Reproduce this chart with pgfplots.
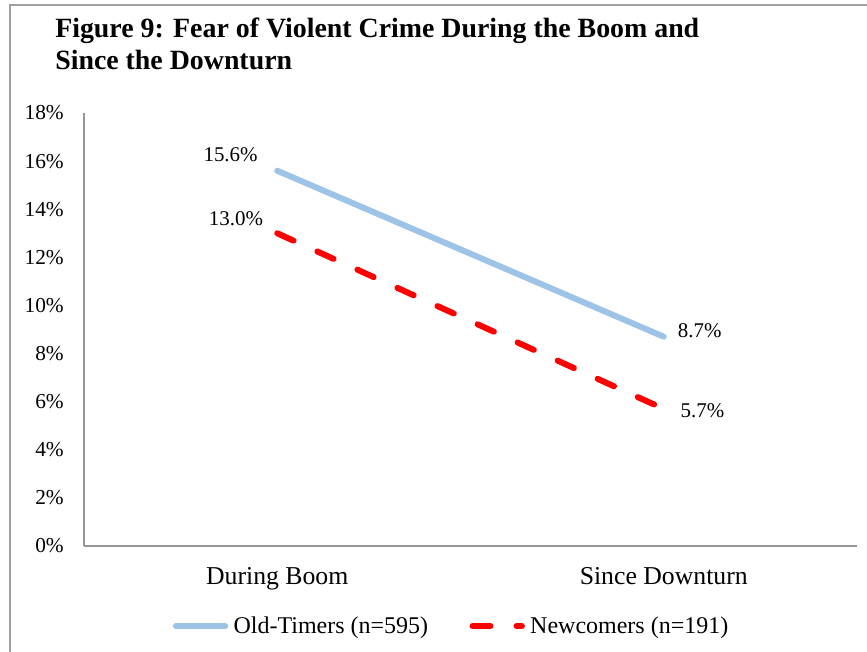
\documentclass[border=0pt]{standalone}
\usepackage{pgfplots}
\pgfplotsset{compat=1.18}
\usepackage{fontspec}
\setmainfont{Liberation Serif}
\definecolor{oldblue}{RGB}{157,195,230}
\definecolor{newred}{RGB}{255,0,0}
\definecolor{axgray}{RGB}{150,150,150}
\definecolor{bordergray}{RGB}{160,160,160}
\begin{document}
\begin{tikzpicture}
\useasboundingbox (0pt,0pt) rectangle (650.25pt,-489pt);
\begin{scope}
\clip (0pt,0pt) rectangle (650.25pt,-489pt);
\draw[bordergray, line width=0.9pt] (7.5pt,-500pt) -- (7.5pt,-3.75pt) -- (660pt,-3.75pt);
\end{scope}
\node[anchor=base west, inner sep=0pt, font=\fontsize{20.9}{24}\selectfont\bfseries] at (41.25pt,-28pt) {Figure 9: Fear of Violent Crime During the Boom and};
\node[anchor=base west, inner sep=0pt, font=\fontsize{20.9}{24}\selectfont\bfseries] at (41.25pt,-52.5pt) {Since the Downturn};
\begin{axis}[
  at={(63pt,-409.5pt)}, anchor=south west,
  scale only axis, width=579.75pt, height=324.75pt,
  xmin=-0.5, xmax=1.5, ymin=0, ymax=18,
  axis x line=bottom, axis y line=left,
  axis line style={axgray, line width=1.3pt, -},
  xtick={0,1}, xticklabels={During Boom, Since Downturn},
  ytick={0,2,...,18},
  yticklabel={\pgfmathprintnumber{\tick}\%},
  /pgf/number format/assume math mode=true,
  major tick length=0pt,
  yticklabel style={inner sep=0pt, anchor=east, xshift=-15pt, font=\fontsize{16}{18}\selectfont},
  xticklabel style={inner sep=0pt, anchor=north, yshift=-16pt, font=\fontsize{19.3}{22}\selectfont},
  clip=false,
  legend columns=2,
  legend cell align=left,
  legend style={at={(0.476,-0.185)}, anchor=center, draw=none, fill=none,
    font=\fontsize{18}{20}\selectfont,
    /tikz/every even column/.append style={column sep=29pt},
    /tikz/every odd column/.append style={column sep=2pt}},
  legend image code/.code={\draw[#1] (3pt,0pt) -- (40pt,0pt);},
]
\addplot[oldblue, line width=4.5pt, line cap=round] coordinates {(0,15.6) (1,8.7)};
\addlegendentry{Old-Timers (n=595)}
\addplot[newred, line width=4.5pt, line cap=round, dash pattern=on 13.4pt off 19.6pt] coordinates {(0,13.0) (1,5.7)};
\addlegendentry{Newcomers (n=191)}
\node[font=\fontsize{15.7}{18}\selectfont, xshift=-35pt, yshift=12pt] at (axis cs:0,15.6) {15.6\%};
\node[font=\fontsize{15.7}{18}\selectfont, xshift=-31pt, yshift=11pt] at (axis cs:0,13.0) {13.0\%};
\node[font=\fontsize{15.7}{18}\selectfont, xshift=27pt, yshift=4.5pt] at (axis cs:1,8.7) {8.7\%};
\node[font=\fontsize{15.7}{18}\selectfont, xshift=29pt, yshift=-1.5pt] at (axis cs:1,5.7) {5.7\%};
\end{axis}
\end{tikzpicture}
\end{document}
